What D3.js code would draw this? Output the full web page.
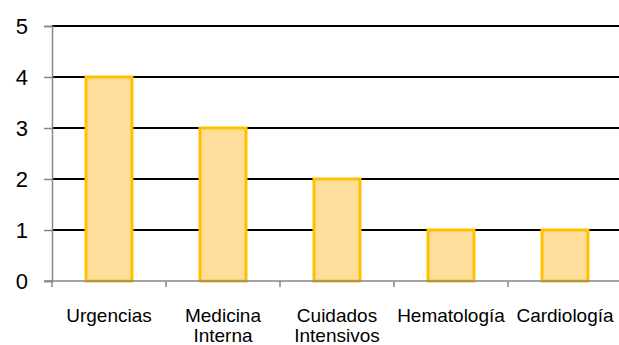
<!DOCTYPE html>
<html>
<head>
<meta charset="utf-8">
<script src="https://cdn.jsdelivr.net/npm/d3@7"></script>
<style>
  html, body { margin: 0; padding: 0; background: #fff; overflow: hidden; }
  text { font-family: "Liberation Sans", Arial, sans-serif; fill: #000; }
</style>
</head>
<body>
<svg id="chart" width="619" height="345"></svg>
<script>
// Servicios y número de casos por servicio
const categories = [["Urgencias"], ["Medicina", "Interna"], ["Cuidados", "Intensivos"], ["Hematología"], ["Cardiología"]];
const values = [4, 3, 2, 1, 1];
const yTicks = [0, 1, 2, 3, 4, 5];

const svg = d3.select("#chart");
const plotLeft = 52, plotRight = 622, plotTop = 26, plotBottom = 281;

const x = d3.scaleBand()
  .domain(d3.range(categories.length))
  .range([plotLeft, plotRight])
  .paddingInner(0).paddingOuter(0);

const y = d3.scaleLinear().domain([0, 5]).range([plotBottom, plotTop]);

// Horizontal gridlines
svg.append("g").selectAll("line")
  .data(yTicks.filter(d => d > 0))
  .join("line")
  .attr("x1", plotLeft).attr("x2", plotRight)
  .attr("y1", d => y(d)).attr("y2", d => y(d))
  .attr("stroke", "#000").attr("stroke-width", 2);

// Bars
const bw = 46;
svg.append("g").selectAll("rect")
  .data(values)
  .join("rect")
  .attr("x", (d, i) => x(i) + x.bandwidth() / 2 - bw / 2)
  .attr("width", bw)
  .attr("y", d => y(d))
  .attr("height", d => y(0) - y(d))
  .attr("fill", "#FFDE9B")
  .attr("stroke", "#FFC000")
  .attr("stroke-width", 3);

// Y axis
const yAxis = svg.append("g")
  .attr("transform", `translate(${plotLeft},0)`)
  .call(d3.axisLeft(y).tickValues(yTicks).tickSize(8).tickPadding(16).tickFormat(d3.format("d")));
yAxis.select(".domain").attr("stroke", "#868686").attr("stroke-width", 1.5);
yAxis.selectAll(".tick line").attr("stroke", "#868686").attr("stroke-width", 1.5);
yAxis.selectAll(".tick text")
  .attr("font-size", 22)
  .attr("font-family", "Liberation Sans, Arial, sans-serif")
  .attr("fill", "#000");

// X axis line with tick marks at band boundaries
const xAxis = svg.append("g");
xAxis.append("line")
  .attr("x1", plotLeft - 8).attr("x2", plotRight)
  .attr("y1", plotBottom).attr("y2", plotBottom)
  .attr("stroke", "#868686").attr("stroke-width", 1.5);
xAxis.selectAll("line.tk")
  .data(d3.range(categories.length + 1))
  .join("line").attr("class", "tk")
  .attr("x1", i => i < categories.length ? x(i) : plotRight)
  .attr("x2", i => i < categories.length ? x(i) : plotRight)
  .attr("y1", plotBottom).attr("y2", plotBottom + 6)
  .attr("stroke", "#868686").attr("stroke-width", 1.5);

// Category labels
const lbl = svg.append("g").selectAll("text")
  .data(categories)
  .join("text")
  .attr("text-anchor", "middle")
  .attr("font-size", 19)
  .attr("x", (d, i) => x(i) + x.bandwidth() / 2)
  .attr("y", 322);
lbl.selectAll("tspan")
  .data(d => d)
  .join("tspan")
  .attr("x", function() { return d3.select(this.parentNode).attr("x"); })
  .attr("dy", (d, i) => i === 0 ? 0 : 19.5)
  .text(d => d);
</script>
</body>
</html>
